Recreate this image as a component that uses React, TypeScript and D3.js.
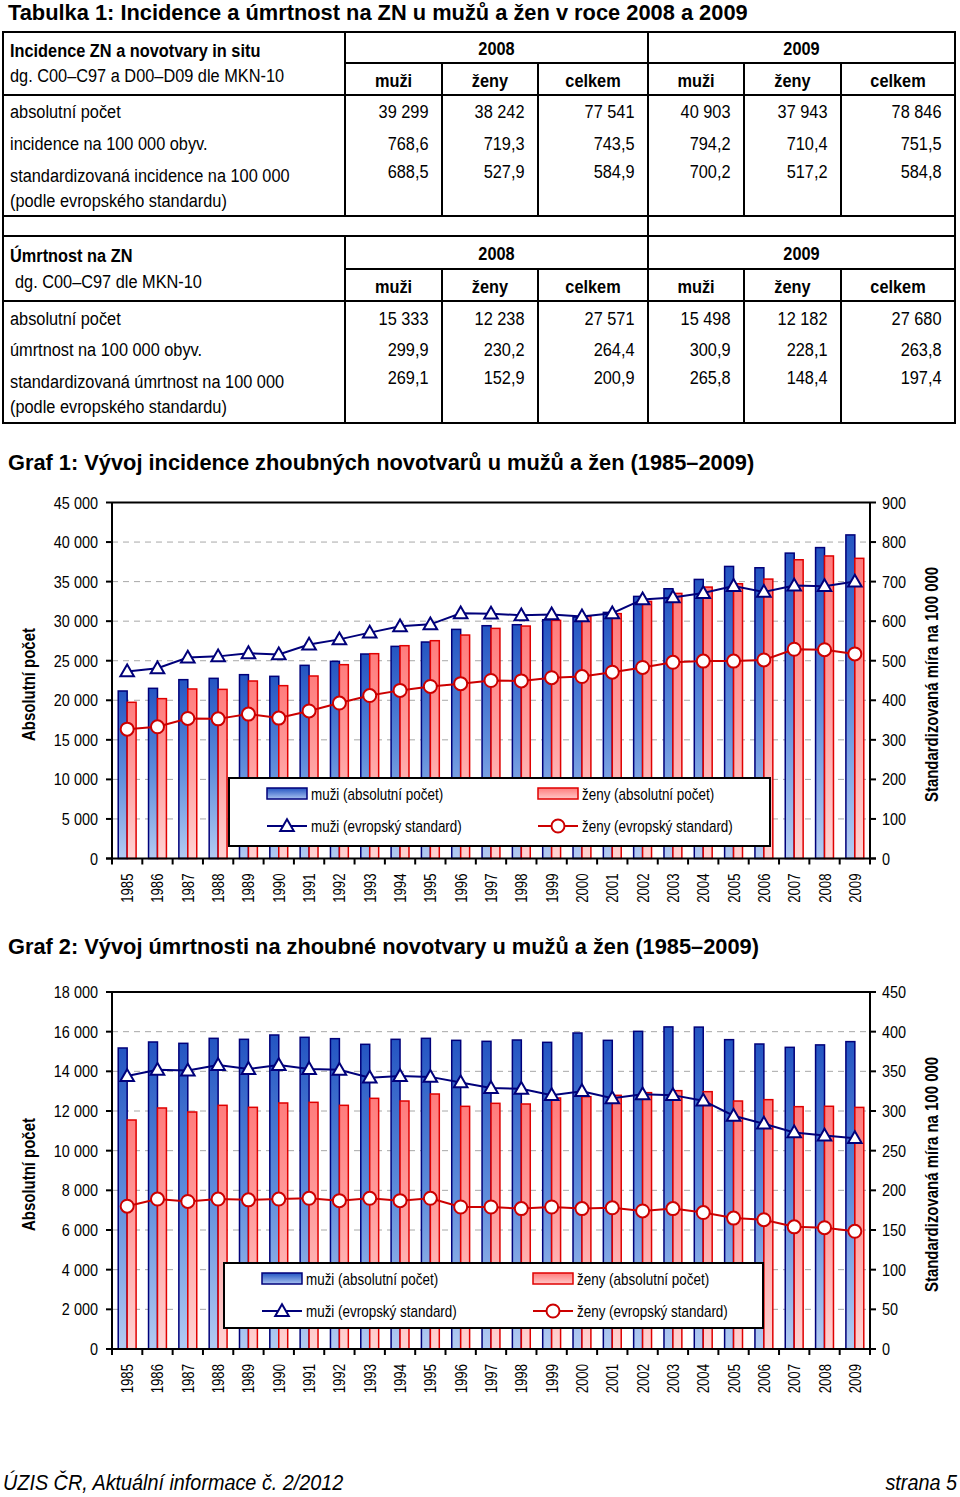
import React from "react";
import * as d3 from "d3";

// ---------- DATA ----------
const years = ["1985","1986","1987","1988","1989","1990","1991","1992","1993","1994","1995","1996","1997","1998","1999","2000","2001","2002","2003","2004","2005","2006","2007","2008","2009"];

// Graf 1: incidence
const incMen = [21175,21511,22606,22774,23237,23027,24416,24921,25847,26815,27363,28962,29426,29552,30183,30520,31109,33130,34098,35277,36919,36750,38603,39299,40903];
const incWomen = [19743,20207,21430,21380,22437,21848,23069,24500,25889,26900,27531,28247,29089,29384,30099,30604,30950,32498,33509,34309,34730,35319,37761,38242,37943];
const incMenStd = [473,481,508,511,519,516,541,554,571,587,592,620,619,615,617,612,620,655,660,671,689,674,690,688.5,700.2];
const incWomenStd = [327,333,354,353,365,355,373,393,412,425,435,442,450,449,457,460,471,483,496,499,499,502,529,527.9,517.2];

// Graf 2: mortality
const mortMen = [15177,15479,15412,15664,15614,15832,15715,15647,15362,15614,15664,15563,15513,15580,15462,15933,15563,16017,16240,16230,15597,15378,15210,15333,15498];
const mortWomen = [11546,12152,11950,12286,12185,12404,12437,12286,12639,12504,12857,12235,12387,12353,12656,12723,12790,12925,13025,12975,12504,12572,12219,12238,12182];
const mortMenStd = [344,352,351,358,353,358,353,352,342,344,343,336,329,328,320,325,316,321,320,313,294,284,273,269.1,265.8];
const mortWomenStd = [180,189,186,189,188,189,190,187,190,187,190,179,179,177,179,177,178,174,177,172,165,163,154,152.9,148.4];

const legendLabels = ["muži (absolutní počet)","ženy (absolutní počet)","muži (evropský standard)","ženy (evropský standard)"];

// Tables
const tableYears = ["2008","2009"];
const tableCols = ["muži","ženy","celkem"];
const incTitle = ["Incidence ZN a novotvary in situ","dg. C00–C97 a D00–D09 dle MKN-10"];
const incRowLabels = ["absolutní počet","incidence na 100 000 obyv.","standardizovaná incidence na 100 000","(podle evropského standardu)"];
const incRows = [
  ["39 299","38 242","77 541","40 903","37 943","78 846"],
  ["768,6","719,3","743,5","794,2","710,4","751,5"],
  ["688,5","527,9","584,9","700,2","517,2","584,8"],
];
const mortTitle = ["Úmrtnost na ZN","dg. C00–C97 dle MKN-10"];
const mortRowLabels = ["absolutní počet","úmrtnost na 100 000 obyv.","standardizovaná úmrtnost na 100 000","(podle evropského standardu)"];
const mortRows = [
  ["15 333","12 238","27 571","15 498","12 182","27 680"],
  ["299,9","230,2","264,4","300,9","228,1","263,8"],
  ["269,1","152,9","200,9","265,8","148,4","197,4"],
];

const titles = [
  "Tabulka 1: Incidence a úmrtnost na ZN u mužů a žen v roce 2008 a 2009",
  "Graf 1: Vývoj incidence zhoubných novotvarů u mužů a žen (1985–2009)",
  "Graf 2: Vývoj úmrtnosti na zhoubné novotvary u mužů a žen (1985–2009)",
];
const leftAxisTitle = "Absolutní počet";
const rightAxisTitle = "Standardizovaná míra na 100 000";
const footerLeft = "ÚZIS ČR, Aktuální informace č. 2/2012";
const footerRight = "strana 5";

// ---------- STYLE ----------
const FONT = "'Liberation Sans',Arial,Helvetica,sans-serif";
const NAVY = "#00007a";
const RED = "#e00000";
const LINE_RED = "#cc0000";

const fmt = d3.formatLocale({ decimal: ",", thousands: " ", grouping: [3], currency: ["", ""] }).format(",");

// condensed text helper (narrow face emulated by horizontal scaling)
function T(props: any) {
  const { x, y, k = 0.86, rot = false, children, ...rest } = props;
  return (
    <text transform={`translate(${x},${y})${rot ? " rotate(-90)" : ""} scale(${k},1)`} {...rest}>{children}</text>
  );
}

type ChartProps = {
  top: number; bottom: number; leftMax: number; rightMax: number;
  men: number[]; women: number[]; menStd: number[]; womenStd: number[];
  legend: { x: number; y: number; w: number; h: number };
};

function Chart(p: ChartProps) {
  const L = 112, R = 870;
  const x = d3.scaleBand<string>().domain(years).range([L, R]).paddingInner(0).paddingOuter(0);
  const y = d3.scaleLinear().domain([0, p.leftMax]).range([p.bottom, p.top]);
  const y2 = d3.scaleLinear().domain([0, p.rightMax]).range([p.bottom, p.top]);
  const bw = x.bandwidth() * 0.295;
  const cx = (yr: string) => (x(yr) as number) + x.bandwidth() / 2;
  const lt = y.ticks(9);
  const rt = y2.ticks(9);
  const line = d3.line<number>().x((_, i) => cx(years[i])).y((v) => y2(v));
  const tri = d3.symbol().type(d3.symbolTriangle).size(80)() as string;
  const midY = (p.top + p.bottom) / 2 + 4;
  const lg = p.legend;
  return (
    <g fontFamily={FONT}>
      {lt.filter((t) => t > 0 && t < p.leftMax).map((t) => (
        <line key={"g" + t} x1={L} x2={R} y1={y(t)} y2={y(t)} stroke="#a8a8a8" strokeWidth={1} strokeDasharray="6,5" />
      ))}
      {years.map((yr, i) => (
        <g key={"b" + yr}>
          <rect x={cx(yr) - bw} y={y(p.men[i])} width={bw} height={p.bottom - y(p.men[i])} fill="url(#gBlue)" stroke={NAVY} strokeWidth={1.5} />
          <rect x={cx(yr)} y={y(p.women[i])} width={bw} height={p.bottom - y(p.women[i])} fill="url(#gRed)" stroke={RED} strokeWidth={1.5} />
        </g>
      ))}
      <path d={line(p.menStd) as string} fill="none" stroke={NAVY} strokeWidth={2} />
      <path d={line(p.womenStd) as string} fill="none" stroke={LINE_RED} strokeWidth={2} />
      {p.menStd.map((v, i) => (
        <path key={"t" + i} d={tri} transform={`translate(${cx(years[i])},${y2(v) + 1})`} fill="#fff" stroke={NAVY} strokeWidth={2} />
      ))}
      {p.womenStd.map((v, i) => (
        <circle key={"c" + i} cx={cx(years[i])} cy={y2(v)} r={6.5} fill="#fff" stroke={LINE_RED} strokeWidth={2} />
      ))}
      <line x1={L} x2={R} y1={p.top} y2={p.top} stroke="#000" strokeWidth={2} />
      <line x1={L} x2={L} y1={p.top} y2={p.bottom} stroke="#000" strokeWidth={2} />
      <line x1={R} x2={R} y1={p.top} y2={p.bottom} stroke="#000" strokeWidth={2} />
      <line x1={L - 6} x2={R + 6} y1={p.bottom} y2={p.bottom} stroke="#000" strokeWidth={2} />
      {lt.map((t) => (
        <g key={"l" + t}>
          <line x1={L - 6} x2={L} y1={y(t)} y2={y(t)} stroke="#000" strokeWidth={2} />
          <T x={98} y={y(t) + 6} k={0.85} textAnchor="end" fontSize={17}>{fmt(t)}</T>
        </g>
      ))}
      {rt.map((t) => (
        <g key={"r" + t}>
          <line x1={R} x2={R + 6} y1={y2(t)} y2={y2(t)} stroke="#000" strokeWidth={2} />
          <T x={882} y={y2(t) + 6} k={0.85} textAnchor="start" fontSize={17}>{fmt(t)}</T>
        </g>
      ))}
      {years.map((yr) => (
        <line key={"xt" + yr} x1={x(yr) as number} x2={x(yr) as number} y1={p.bottom} y2={p.bottom + 6} stroke="#000" strokeWidth={2} />
      ))}
      <line x1={R} x2={R} y1={p.bottom} y2={p.bottom + 6} stroke="#000" strokeWidth={2} />
      {years.map((yr) => (
        <T key={"xl" + yr} x={cx(yr) + 6} y={p.bottom + 15} rot k={0.8} textAnchor="end" fontSize={16.5}>{yr}</T>
      ))}
      <T x={35} y={midY} rot k={0.855} textAnchor="middle" fontWeight="bold" fontSize={17.5}>{leftAxisTitle}</T>
      <T x={938} y={midY} rot k={0.855} textAnchor="middle" fontWeight="bold" fontSize={17.5}>{rightAxisTitle}</T>
      <rect x={lg.x} y={lg.y} width={lg.w} height={lg.h} fill="#fff" stroke="#000" strokeWidth={2} />
      <rect x={lg.x + 38} y={lg.y + 10} width={40} height={11} fill="url(#gBlueH)" stroke={NAVY} strokeWidth={1.5} />
      <T x={lg.x + 82} y={lg.y + 22} k={0.84} fontSize={16}>{legendLabels[0]}</T>
      <rect x={lg.x + 309} y={lg.y + 10} width={40} height={11} fill="url(#gRedH)" stroke={RED} strokeWidth={1.5} />
      <T x={lg.x + 353} y={lg.y + 22} k={0.84} fontSize={16}>{legendLabels[1]}</T>
      <line x1={lg.x + 38} x2={lg.x + 78} y1={lg.y + 48} y2={lg.y + 48} stroke={NAVY} strokeWidth={2} />
      <path d={tri} transform={`translate(${lg.x + 58},${lg.y + 49})`} fill="#fff" stroke={NAVY} strokeWidth={2} />
      <T x={lg.x + 82} y={lg.y + 54} k={0.84} fontSize={16}>{legendLabels[2]}</T>
      <line x1={lg.x + 309} x2={lg.x + 349} y1={lg.y + 48} y2={lg.y + 48} stroke={LINE_RED} strokeWidth={2} />
      <circle cx={lg.x + 329} cy={lg.y + 48} r={6.5} fill="#fff" stroke={LINE_RED} strokeWidth={2} />
      <T x={lg.x + 353} y={lg.y + 54} k={0.84} fontSize={16}>{legendLabels[3]}</T>
    </g>
  );
}

type TableProps = {
  top: number; split: number; headBottom: number; bottom: number;
  title: string[]; titleY: number[]; subX: number; yearY: number; colY: number;
  rowLabels: string[]; rows: string[][]; labelY: number[]; numY: number[];
};

const colX = [345, 442, 538, 648, 744, 841, 955];

function Table(t: TableProps) {
  const k = 0.86;
  return (
    <g fontFamily={FONT} fontSize={19}>
      <rect x={3} y={t.top} width={952} height={t.bottom - t.top} fill="none" stroke="#000" strokeWidth={2} />
      <line x1={345} x2={955} y1={t.split} y2={t.split} stroke="#000" strokeWidth={2} />
      <line x1={3} x2={955} y1={t.headBottom} y2={t.headBottom} stroke="#000" strokeWidth={2} />
      <line x1={345} x2={345} y1={t.top} y2={t.bottom} stroke="#000" strokeWidth={2} />
      <line x1={648} x2={648} y1={t.top} y2={t.bottom} stroke="#000" strokeWidth={2} />
      {[1, 2, 4, 5].map((c) => (
        <line key={c} x1={colX[c]} x2={colX[c]} y1={t.split} y2={t.bottom} stroke="#000" strokeWidth={2} />
      ))}
      <T x={10} y={t.titleY[0]} k={k} fontWeight="bold">{t.title[0]}</T>
      <T x={t.subX} y={t.titleY[1]} k={k}>{t.title[1]}</T>
      {tableYears.map((yr, i) => (
        <T key={yr} x={(colX[i * 3] + colX[i * 3 + 3]) / 2} y={t.yearY} k={k} textAnchor="middle" fontWeight="bold">{yr}</T>
      ))}
      {[0, 1, 2, 3, 4, 5].map((c) => (
        <T key={"c" + c} x={(colX[c] + colX[c + 1]) / 2} y={t.colY} k={k} textAnchor="middle" fontWeight="bold">{tableCols[c % 3]}</T>
      ))}
      {t.rowLabels.map((l, i) => (
        <T key={"rl" + i} x={10} y={t.labelY[i]} k={k}>{l}</T>
      ))}
      {t.rows.map((r, i) => r.map((v, c) => (
        <T key={"v" + i + c} x={colX[c + 1] - 13.5} y={t.numY[i]} k={k} textAnchor="end">{v}</T>
      )))}
    </g>
  );
}

export default function App() {
  return (
    <svg width={960} height={1497} viewBox="0 0 960 1497" style={{ position: "absolute", left: 0, top: 0, background: "#fff" }}>
      <defs>
        <linearGradient id="gBlue" x1="0" y1="0" x2="0" y2="1">
          <stop offset="0" stopColor="#2455c2" />
          <stop offset="0.5" stopColor="#5f8ddb" />
          <stop offset="1" stopColor="#b3cbf2" />
        </linearGradient>
        <linearGradient id="gRed" x1="0" y1="0" x2="0" y2="1">
          <stop offset="0" stopColor="#ff7c7c" />
          <stop offset="0.5" stopColor="#ffa3a3" />
          <stop offset="1" stopColor="#ffd3d3" />
        </linearGradient>
        <linearGradient id="gBlueH" x1="0" y1="0" x2="0" y2="1">
          <stop offset="0" stopColor="#2455c2" />
          <stop offset="1" stopColor="#a9c3f0" />
        </linearGradient>
        <linearGradient id="gRedH" x1="0" y1="0" x2="0" y2="1">
          <stop offset="0" stopColor="#ff7c7c" />
          <stop offset="1" stopColor="#ffc8c8" />
        </linearGradient>
      </defs>
      <rect x={0} y={0} width={960} height={1497} fill="#fff" />
      <T x={8} y={20} k={1.03} fontFamily={FONT} fontWeight="bold" fontSize={21.2}>{titles[0]}</T>

      <Table top={32} split={63} headBottom={95} bottom={216}
        title={incTitle} titleY={[57, 82]} subX={10} yearY={55} colY={87}
        rowLabels={incRowLabels} rows={incRows} labelY={[118, 150, 182, 207]} numY={[118, 150, 177.5]} />
      <line x1={3} x2={3} y1={216} y2={236} stroke="#000" strokeWidth={2} />
      <line x1={648} x2={648} y1={216} y2={236} stroke="#000" strokeWidth={2} />
      <line x1={955} x2={955} y1={216} y2={236} stroke="#000" strokeWidth={2} />
      <Table top={236} split={269} headBottom={301} bottom={423}
        title={mortTitle} titleY={[262, 288]} subX={15} yearY={260} colY={292.5}
        rowLabels={mortRowLabels} rows={mortRows} labelY={[324.5, 356, 388, 413]} numY={[324.5, 356, 383.5]} />

      <text x={8} y={470} fontFamily={FONT} fontWeight="bold" fontSize={21.8}>{titles[1]}</text>
      <Chart top={502.5} bottom={858.5} leftMax={45000} rightMax={900}
        men={incMen} women={incWomen} menStd={incMenStd} womenStd={incWomenStd}
        legend={{ x: 229, y: 778, w: 541, h: 68 }} />

      <text x={8} y={954} fontFamily={FONT} fontWeight="bold" fontSize={21.8}>{titles[2]}</text>
      <Chart top={992} bottom={1349} leftMax={18000} rightMax={450}
        men={mortMen} women={mortWomen} menStd={mortMenStd} womenStd={mortWomenStd}
        legend={{ x: 224, y: 1263, w: 539, h: 65 }} />

      <T x={3} y={1490} k={0.88} fontFamily={FONT} fontStyle="italic" fontSize={22.5}>{footerLeft}</T>
      <T x={957} y={1490} k={0.88} textAnchor="end" fontFamily={FONT} fontStyle="italic" fontSize={22.5}>{footerRight}</T>
    </svg>
  );
}
